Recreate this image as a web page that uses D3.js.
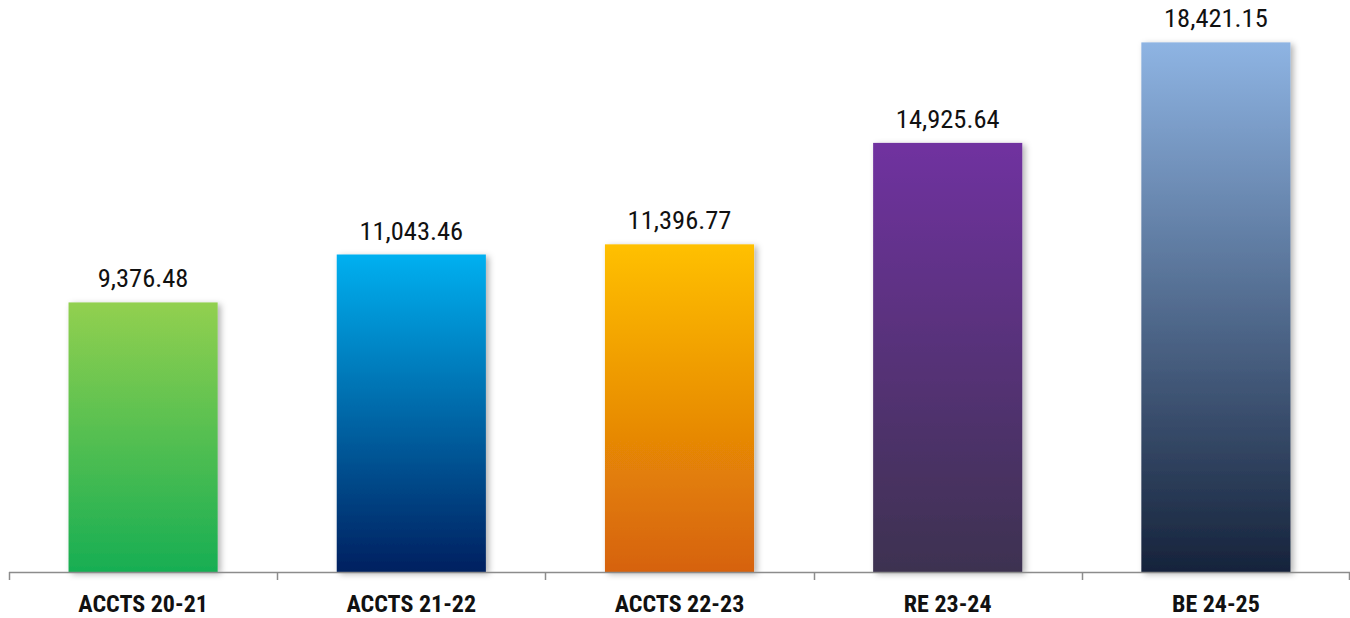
<!DOCTYPE html>
<html><head><meta charset="utf-8">
<script src="https://cdn.jsdelivr.net/npm/d3@7"></script>
<style>
html,body{margin:0;padding:0;background:#fff;}
svg{display:block;font-family:"Roboto Condensed","Roboto","Liberation Sans Narrow",sans-serif;}
</style></head>
<body>
<svg id="chart" width="1350" height="618"></svg>
<script>
const categories = ["ACCTS 20-21","ACCTS 21-22","ACCTS 22-23","RE 23-24","BE 24-25"];
const values = [9376.48, 11043.46, 11396.77, 14925.64, 18421.15];
const topColors = ["#92D050","#00B0F0","#FFC000","#7030A0","#8EB4E3"];
const bottomColors = ["#17AE52","#002060","#D6620A","#3D3150","#16233B"];

const svg = d3.select("#chart");
const base = 572;
const x = d3.scaleBand().domain(categories).range([9,1350]).paddingInner(0.444).paddingOuter(0.222);
const y = d3.scaleLinear().domain([0,20000]).range([base,-3]);

const defs = svg.append("defs");
categories.forEach((c,i)=>{
  const g = defs.append("linearGradient").attr("id","g"+i).attr("x1",0).attr("y1",0).attr("x2",0).attr("y2",1);
  g.append("stop").attr("offset","0%").attr("stop-color",topColors[i]);
  g.append("stop").attr("offset","100%").attr("stop-color",bottomColors[i]);
});
const f = defs.append("filter").attr("id","sh").attr("x","-20%").attr("y","-20%").attr("width","150%").attr("height","150%");
f.append("feDropShadow").attr("dx",3).attr("dy",2).attr("stdDeviation",3).attr("flood-color","#000").attr("flood-opacity",0.3);

svg.append("g").selectAll("rect").data(values).join("rect")
  .attr("x",(d,i)=>x(categories[i]))
  .attr("width",x.bandwidth())
  .attr("y",d=>y(d))
  .attr("height",d=>base-y(d))
  .attr("fill",(d,i)=>`url(#g${i})`)
  .attr("filter","url(#sh)");

// axis
const ax = svg.append("g");
ax.append("line").attr("x1",9).attr("x2",1350).attr("y1",base+0.5).attr("y2",base+0.5).attr("stroke","#8c8c8c").attr("stroke-width",1.5);
const tickXs = d3.range(categories.length+1).map(i=>9+i*(1341/categories.length));
ax.selectAll("line.t").data(tickXs).join("line").attr("class","t")
  .attr("x1",d=>Math.min(Math.round(d)+0.5,1349.5)).attr("x2",d=>Math.min(Math.round(d)+0.5,1349.5))
  .attr("y1",base).attr("y2",base+8).attr("stroke","#8c8c8c").attr("stroke-width",1.5);

svg.append("g").selectAll("text").data(categories).join("text")
  .attr("x",d=>x(d)+x.bandwidth()/2)
  .attr("y",612)
  .attr("text-anchor","middle")
  .attr("font-size",24)
  .attr("font-weight","bold")
  .attr("fill","#111")
  .text(d=>d);

const fmt = d3.format(",.2f");
svg.append("g").selectAll("text").data(values).join("text")
  .attr("x",(d,i)=>x(categories[i])+x.bandwidth()/2)
  .attr("y",d=>y(d)-15)
  .attr("text-anchor","middle")
  .attr("font-size",26.5)
  .attr("fill","#111")
  .text(d=>fmt(d));
</script>
</body></html>
